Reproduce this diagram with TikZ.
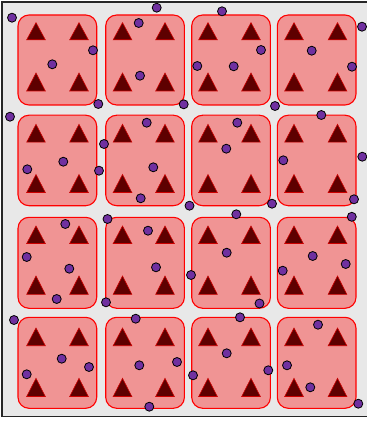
\documentclass[tikz,border=0pt]{standalone}
\definecolor{bggray}{HTML}{E8E8E8}
\definecolor{cellfill}{HTML}{F09494}
\definecolor{trifill}{HTML}{5E0000}
\definecolor{dotfill}{HTML}{7030A0}
\tikzset{
  frame/.style={fill=bggray, draw=black!85, line width=1.6pt},
  cellbox/.style={fill=cellfill, draw=red, line width=1.1pt, rounded corners=11pt},
  tri/.style={fill=trifill, draw=red!80!black, line width=0.6pt, line join=miter},
  dotmark/.style={fill=dotfill, draw=black, line width=0.8pt},
}
\begin{document}
\begin{tikzpicture}[x=1pt,y=-1pt]
\useasboundingbox (0,0) rectangle (366,422);
\draw[frame] (2,2) rectangle (380,416.5);
% cells
\foreach \cx in {18,105.7,191.7,277.3}{
  \foreach \ty/\by in {15/105, 115.2/205.7, 217.3/308.3, 317.3/408.3}{
    \draw[cellbox] (\cx,\ty) rectangle ({\cx+78.7},\by);
  }
}
% triangles
\foreach \tx in {36,122.5,208,294,79,165,251,337.5}{
  \foreach \ap/\bs in {22.7/39.8, 73/91, 124.3/142.2, 174.5/192.5, 226/243.5, 276/294.3, 328/345.7, 378.3/396.5}{
    \draw[tri] ({\tx-9.3},\bs) -- (\tx,\ap) -- ({\tx+9.3},\bs) -- cycle;
  }
}
% dots
\foreach \px/\py in {12/17.7, 156.7/7.7, 222/11.3, 362/26.7, 138.7/23, 93/50.3, 52.3/64.3, 261/50,
  197.3/66, 233.7/66.3, 311.7/50.7, 352/66.7, 140/75.7, 98.3/104, 183.7/104.3, 275/106,
  10/116.7, 321.3/115, 146.7/122.7, 237.3/122.7, 104/144, 226.3/148.7, 63.3/161.7, 27.3/169.3,
  99/170.7, 153.3/167.3, 283.3/160.3, 362.3/156.7, 140.7/198.3, 189.5/205.7, 272/203.7, 354/199.3,
  236.3/214.3, 351.8/216.8, 107.5/219, 65.3/224, 148/230.7, 26.7/257, 69.3/268.7, 226.7/252.7,
  312.7/256, 156/267.3, 191/275, 282.7/270.7, 345.7/264, 56.7/299, 106/302.3, 259.5/303.5,
  14/320, 135.7/318.7, 240/317.3, 318/324.7, 61.7/358.7, 89/367, 26.7/374.3, 139.3/365.3,
  177/362, 226.7/353.3, 193/375.3, 268.3/370.3, 287/365.3, 310.3/387.3, 149.3/406.7, 358.3/403.7}{
  \draw[dotmark] (\px,\py) circle (4.5pt);
}
\end{tikzpicture}
\end{document}
